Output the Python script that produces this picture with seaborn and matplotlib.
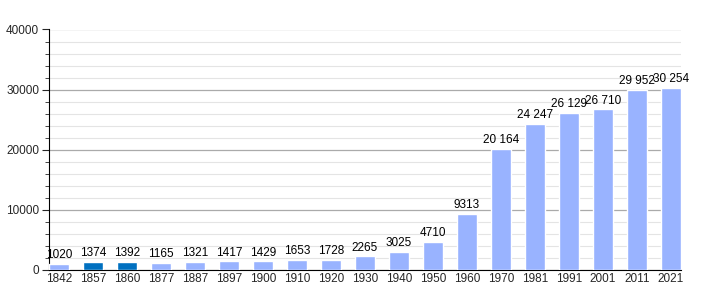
import matplotlib
matplotlib.use("Agg")
import matplotlib.pyplot as plt
import seaborn as sns
import pandas as pd
from matplotlib.ticker import MultipleLocator

years = ["1842", "1857", "1860", "1877", "1887", "1897", "1900", "1910", "1920",
         "1930", "1940", "1950", "1960", "1970", "1981", "1991", "2001", "2011", "2021"]
population = [1020, 1374, 1392, 1165, 1321, 1417, 1429, 1653, 1728,
              2265, 3025, 4710, 9313, 20164, 24247, 26129, 26710, 29952, 30254]
highlight = ["1857", "1860"]

df = pd.DataFrame({"year": years, "pop": population})
light = "#99b3ff"
dark = "#0070c0"
palette = {y: (dark if y in highlight else light) for y in years}

sns.set_style("white")
plt.rcParams['font.family'] = ['Liberation Sans', 'DejaVu Sans']
fig = plt.figure(figsize=(7.10, 3.00), dpi=100)
ax = fig.add_axes([49/710, 30/300, 632/710, 240.5/300])

bw = 0.59
sns.barplot(data=df, x="year", y="pop", hue="year", palette=palette, legend=False,
            width=bw, ax=ax, saturation=1, zorder=3)

n = len(years)
ax.set_xlim(-bw / 2, n - 1 + bw / 2)
ax.set_ylim(0, 40000)
ax.yaxis.set_major_locator(MultipleLocator(10000))
ax.yaxis.set_minor_locator(MultipleLocator(2000))
ax.grid(which="major", axis="y", color="#aaaaaa", linewidth=0.9, zorder=0)
ax.grid(which="minor", axis="y", color="#e4e4e4", linewidth=0.8, zorder=0)
ax.set_axisbelow(True)
for s in ["top", "right"]:
    ax.spines[s].set_visible(False)
ax.spines["left"].set_color("black")
ax.spines["bottom"].set_color("black")
ax.spines["left"].set_linewidth(0.8)
ax.spines["bottom"].set_linewidth(0.8)
ax.tick_params(axis="y", which="major", length=5, direction="out", left=True, labelsize=8.5, pad=2)
ax.tick_params(axis="y", which="minor", length=3, direction="out", left=True)
ax.tick_params(axis="x", length=0, labelsize=8.5, pad=2)
ax.set_xlabel("")
ax.set_ylabel("")

def fmt(v):
    return f"{v:,}".replace(",", " ") if v >= 10000 else str(v)

for i, v in enumerate(population):
    ax.annotate(fmt(v), (i, v), xytext=(0, 2), textcoords="offset points",
                ha="center", va="bottom", fontsize=8.5, color="black")

fig.savefig("out.png", dpi=100)
